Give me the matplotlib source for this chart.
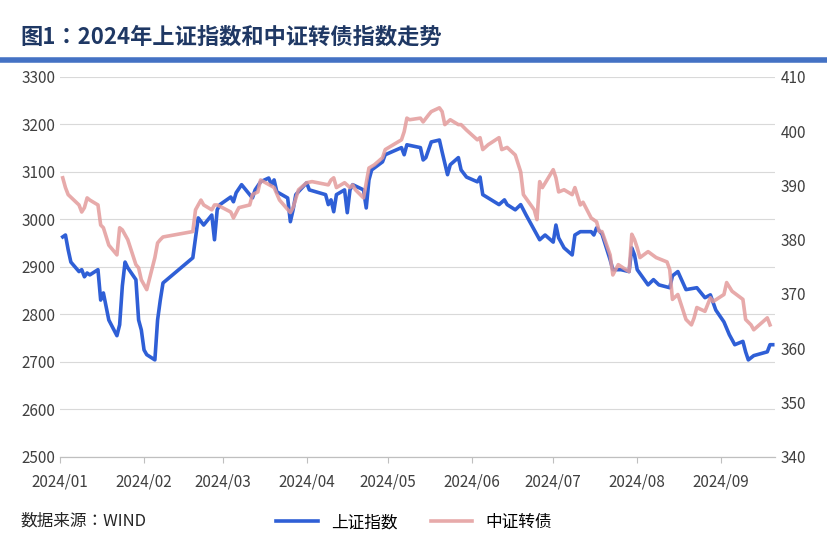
import matplotlib
matplotlib.use("Agg")
import matplotlib.pyplot as plt
from matplotlib import font_manager as fm
import pandas as pd

cjk = [f.name for f in fm.fontManager.ttflist if "CJK" in f.name]
pref = [n for n in cjk if n.endswith("SC")] or cjk
plt.rcParams["font.family"] = "sans-serif"
plt.rcParams["font.sans-serif"] = (pref[:1] if pref else []) + ["DejaVu Sans"]

sh_dates = ["01-02","01-03","01-04","01-05","01-08","01-09","01-10","01-11","01-12","01-15","01-16","01-17","01-19","01-22","01-23","01-24","01-25","01-26","01-29","01-30","01-31","02-01","02-02","02-05","02-06","02-07","02-08",
"02-19","02-21","02-23","02-26","02-27","02-28","02-29","03-01","03-04","03-05","03-06","03-08","03-11","03-12","03-13","03-15","03-18","03-19","03-20","03-21","03-25","03-26","03-27","03-28",
"04-01","04-02","04-08","04-09","04-10","04-11","04-12","04-15","04-16","04-17","04-18","04-22","04-23","04-24","04-25","04-29","04-30","05-06","05-07","05-08","05-13","05-14","05-15","05-17","05-20","05-21","05-23","05-24","05-27","05-28","05-30",
"06-03","06-04","06-05","06-07","06-11","06-13","06-14","06-17","06-19","06-21","06-24","06-26","06-28","07-01","07-02","07-03","07-05","07-08","07-09","07-11","07-15","07-16","07-17","07-19","07-22","07-23","07-26","07-29","07-30","07-31",
"08-01","08-05","08-07","08-09","08-13","08-14","08-16","08-19","08-23","08-26","08-28","08-30","09-02","09-04","09-06","09-09","09-10","09-11","09-13","09-18","09-19","09-20"]
sh_values = [2963,2967,2936,2910,2890,2894,2879,2887,2883,2894,2830,2845,2788,2755,2778,2860,2910,2898,2873,2788,2767,2725,2715,2704,2788,2830,2866,
2919,3003,2988,3009,2957,3020,3031,3035,3047,3037,3056,3073,3052,3045,3062,3079,3087,3073,3083,3058,3045,2995,3020,3052,
3077,3062,3052,3031,3041,3016,3052,3062,3014,3062,3073,3062,3024,3083,3104,3121,3136,3151,3136,3157,3151,3125,3130,3163,3167,3142,3094,3115,3130,3104,3089,
3079,3089,3052,3045,3031,3041,3031,3020,3031,3009,2978,2957,2967,2952,2988,2961,2940,2925,2967,2974,2974,2967,2982,2969,2915,2894,2894,2890,2940,2925,
2894,2862,2873,2862,2856,2881,2890,2852,2856,2835,2841,2809,2784,2757,2736,2743,2721,2704,2713,2721,2736,2736]

cb_dates = ["01-02","01-03","01-04","01-08","01-09","01-10","01-11","01-12","01-15","01-16","01-17","01-19","01-22","01-23","01-24","01-26","01-29","01-30","01-31","02-02","02-05","02-06","02-07","02-08",
"02-19","02-20","02-22","02-23","02-26","02-27","02-28","03-04","03-05","03-07","03-11","03-12","03-14","03-15","03-19","03-20","03-22","03-26","03-27","03-29",
"04-01","04-03","04-09","04-10","04-11","04-12","04-15","04-17","04-18","04-19","04-22","04-24","04-26","04-29","04-30","05-06","05-07","05-08","05-09","05-13","05-14","05-16","05-17","05-20","05-21","05-22","05-24","05-27","05-28","05-30",
"06-03","06-04","06-05","06-07","06-11","06-12","06-14","06-17","06-19","06-20","06-24","06-25","06-26","06-27","07-01","07-02","07-03","07-05","07-08","07-09","07-11","07-12","07-15","07-17","07-18","07-19","07-22","07-23","07-25","07-29","07-30","07-31",
"08-01","08-02","08-05","08-08","08-12","08-13","08-14","08-16","08-19","08-21","08-22","08-23","08-26","08-28","08-29","09-02","09-03","09-05","09-09","09-10","09-12","09-13","09-18","09-19"]
cb_values = [391.4,389.6,388.3,386.4,385.1,385.9,387.7,387.3,386.4,382.7,382.2,379.0,377.2,382.2,381.8,380.0,375.4,374.8,372.6,370.8,376.7,379.4,380.0,380.5,
381.5,385.5,387.3,386.4,385.5,386.4,386.4,385.1,384.0,385.9,386.4,388.3,388.8,391.0,389.9,389.6,387.3,385.0,385.9,389.2,
390.5,390.7,390.1,391.0,391.4,389.6,390.5,389.6,390.1,389.2,387.7,393.2,393.8,395.1,396.6,398.4,399.9,402.4,402.1,402.4,401.7,403.0,403.6,404.3,403.6,401.2,402.1,401.2,401.2,400.2,
398.4,398.8,396.6,397.5,398.8,396.6,397.0,395.6,392.5,388.3,385.5,383.7,390.7,389.6,392.9,391.4,388.8,389.2,388.3,389.6,386.4,386.9,384.0,383.3,381.5,381.5,377.2,373.5,375.4,374.1,381.0,380.0,
378.5,376.7,377.8,376.7,375.9,374.5,369.0,369.9,365.3,364.3,365.6,367.5,366.8,369.3,368.6,369.9,372.1,370.5,369.0,365.3,364.3,363.4,365.6,364.3]

month_labels = ["2024/01","2024/02","2024/03","2024/04","2024/05","2024/06","2024/07","2024/08","2024/09"]

sh_x = pd.to_datetime(["2024-" + d for d in sh_dates])
cb_x = pd.to_datetime(["2024-" + d for d in cb_dates])
ticks = pd.date_range("2024-01-01", periods=9, freq="MS")

fig = plt.figure(figsize=(8.28, 5.53), dpi=100)
ax = fig.add_axes([0.0725, 0.174, 0.864, 0.687])
ax2 = ax.twinx()

l1, = ax.plot(sh_x, sh_values, color="#2F5FD6", lw=2.6, label="上证指数", zorder=2)
l2, = ax2.plot(cb_x, cb_values, color="#E39B9B", lw=2.6, alpha=0.85, label="中证转债", zorder=3)

ax.set_ylim(2500, 3300)
ax2.set_ylim(340, 410)
ax.set_yticks(range(2500, 3301, 100))
ax2.set_yticks(range(340, 411, 10))
ax.set_xlim(pd.Timestamp("2024-01-01"), pd.Timestamp("2024-09-21"))
ax.set_xticks(ticks)
ax.set_xticklabels(month_labels)
ax.grid(axis="y", color="#D9D9D9", lw=0.8)
ax.set_axisbelow(True)
for a in (ax, ax2):
    for s in ["top", "right", "left"]:
        a.spines[s].set_visible(False)
    a.spines["bottom"].set_color("#BFBFBF")
    a.tick_params(length=0, labelsize=11, colors="#404040")
ax.tick_params(axis="x", pad=8, length=4, color="#BFBFBF")

fig.text(0.025, 0.933, "图1：2024年上证指数和中证转债指数走势", fontsize=16, fontweight="bold",
         color="#1F3864", va="center")
fig.add_artist(plt.Line2D([0, 1], [0.891, 0.891], color="#4472C4", lw=4, transform=fig.transFigure))
fig.text(0.025, 0.057, "数据来源：WIND", fontsize=12, style="italic", color="#262626", va="center")
fig.legend([l1, l2], ["上证指数", "中证转债"], loc="center", bbox_to_anchor=(0.5, 0.055), ncol=2,
           frameon=False, fontsize=12, handlelength=2.5, columnspacing=2)

fig.savefig("out.png", dpi=100)
